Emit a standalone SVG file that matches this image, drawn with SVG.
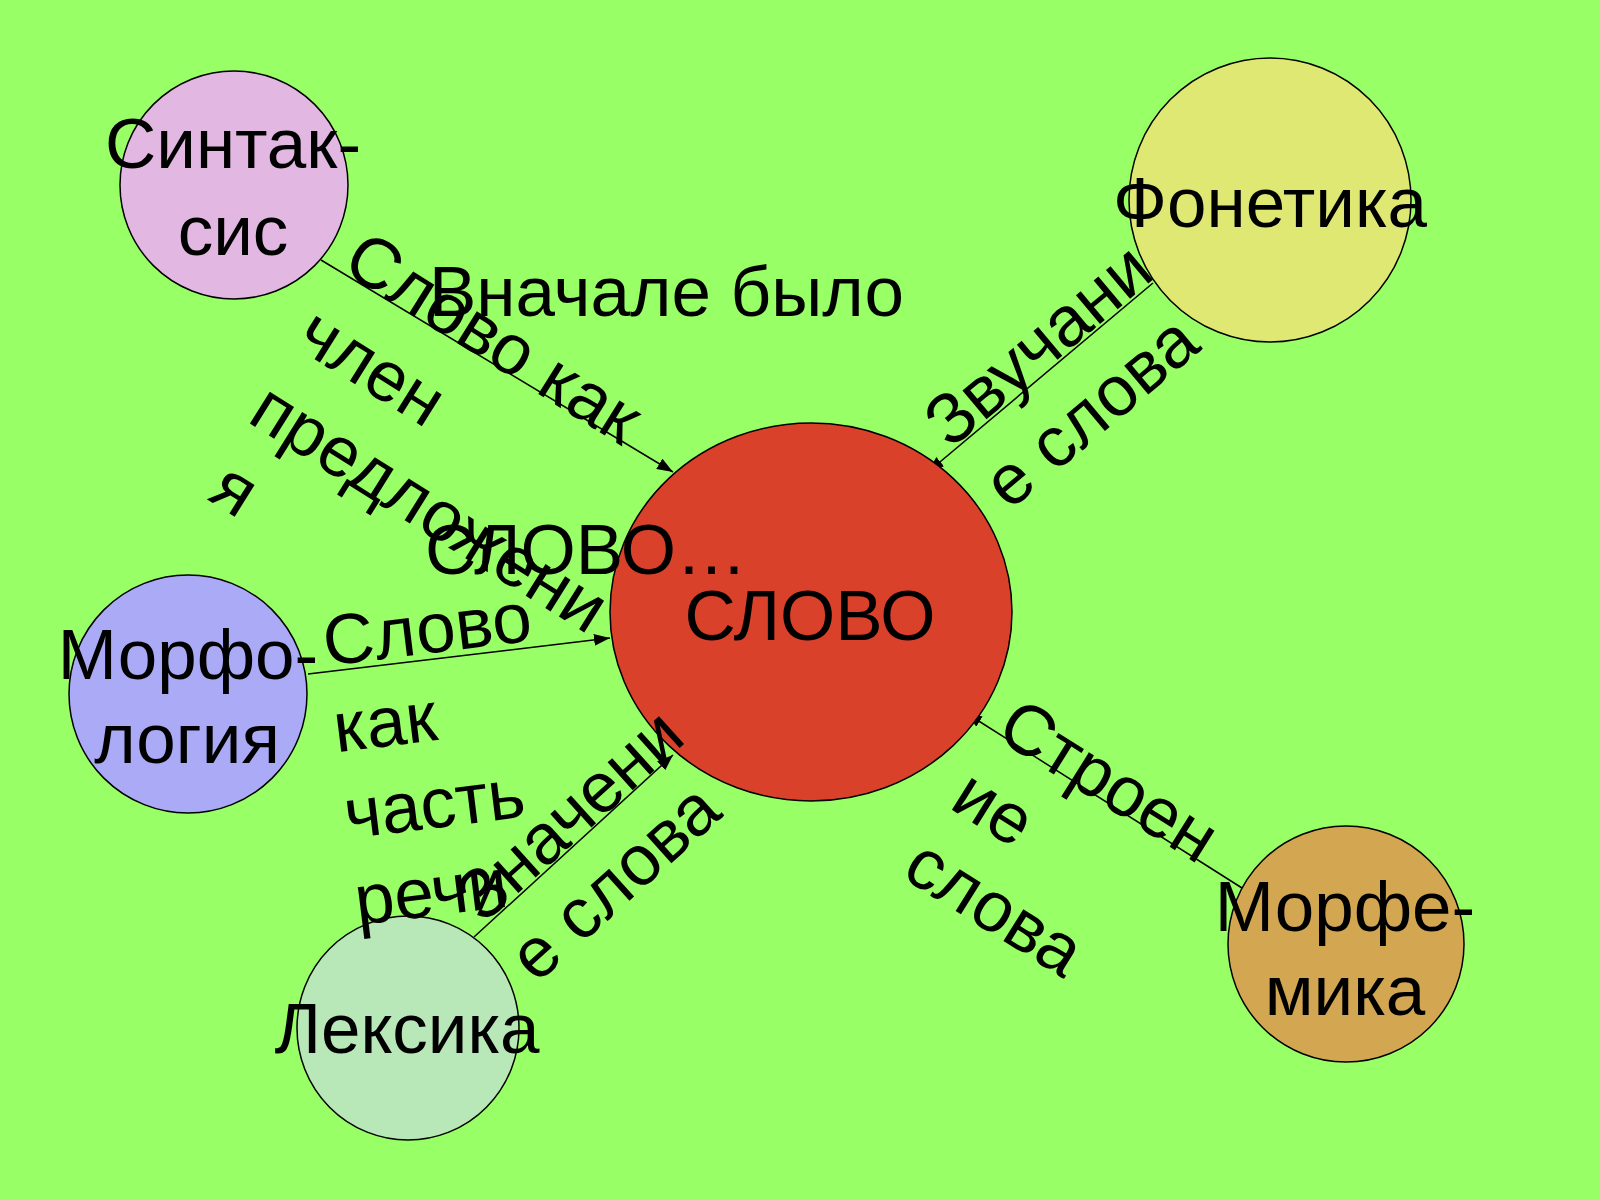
<svg xmlns="http://www.w3.org/2000/svg" width="1600" height="1200" viewBox="0 0 1600 1200">
<defs>
<style>
text{font-family:"Liberation Sans",Arial,sans-serif;font-size:71px;fill:#000}
.c{text-anchor:middle}
.n{stroke:#000;stroke-width:1.5}
.e{stroke:#000;stroke-width:1.5;fill:none;marker-end:url(#ah)}
</style>
<marker id="ah" markerUnits="userSpaceOnUse" markerWidth="18" markerHeight="12" refX="16" refY="6" orient="auto">
<path d="M0,0 L16,6 L0,12 Z" fill="#000"/>
</marker>
</defs>
<rect width="1600" height="1200" fill="#99FF66"/>
<g id="connectors">
<line class="e" x1="321" y1="260" x2="673" y2="472"/>
<line class="e" x1="1153" y1="283" x2="928" y2="472"/>
<line class="e" x1="308" y1="674" x2="610" y2="638"/>
<line class="e" x1="474" y1="937" x2="673" y2="755"/>
<line class="e" x1="1242" y1="888" x2="966" y2="713"/>
</g>
<g id="node-slovo">
<ellipse class="n" cx="811" cy="612" rx="201" ry="189" fill="#D9412A"/>
<text class="c" x="810" y="640">СЛОВО</text>
</g>
<g id="node-sintaksis">
<ellipse class="n" cx="234" cy="185" rx="114" ry="114" fill="#E2B8E2"/>
<text class="c" x="233" y="168">Синтак-</text>
<text class="c" x="233" y="255">сис</text>
</g>
<g id="node-fonetika">
<ellipse class="n" cx="1270" cy="200" rx="141" ry="142" fill="#DFE873"/>
<text class="c" x="1270" y="227">Фонетика</text>
</g>
<g id="node-morfologiya">
<ellipse class="n" cx="188" cy="694" rx="119" ry="119" fill="#AAAAF6"/>
<text class="c" x="188" y="679">Морфо-</text>
<text class="c" x="187" y="763">логия</text>
</g>
<g id="node-leksika">
<ellipse class="n" cx="408" cy="1028" rx="111" ry="112" fill="#B8E8B8"/>
<text class="c" x="407" y="1053">Лексика</text>
</g>
<g id="node-morfemika">
<ellipse class="n" cx="1346" cy="944" rx="118" ry="118" fill="#D3A752"/>
<text class="c" x="1345" y="931">Морфе-</text>
<text class="c" x="1345" y="1015">мика</text>
</g>
<g id="labels">
<text x="429" y="316">Вначале было</text>
<text x="425" y="574">СЛОВО…</text>
<g transform="translate(340,270) rotate(32)">
<text x="0" y="0">Слово как</text>
<text x="0" y="89">член</text>
<text x="0" y="178">предложени</text>
<text x="8" y="265">я</text>
</g>
<g transform="translate(950,450) rotate(-40)">
<text x="0" y="0">Звучани</text>
<text x="6" y="85">е слова</text>
</g>
<g transform="translate(326,666) rotate(-7)">
<text x="0" y="0">Слово</text>
<text x="0" y="87">как</text>
<text x="0" y="174">часть</text>
<text x="0" y="261">речи</text>
</g>
<g transform="translate(483,925) rotate(-42)">
<text x="0" y="0">Значени</text>
<text x="0" y="80">е слова</text>
</g>
<g transform="translate(994,737) rotate(32)">
<text x="0" y="0">Строен</text>
<text x="-2" y="84">ие</text>
<text x="-6" y="168">слова</text>
</g>
</g>
</svg>
